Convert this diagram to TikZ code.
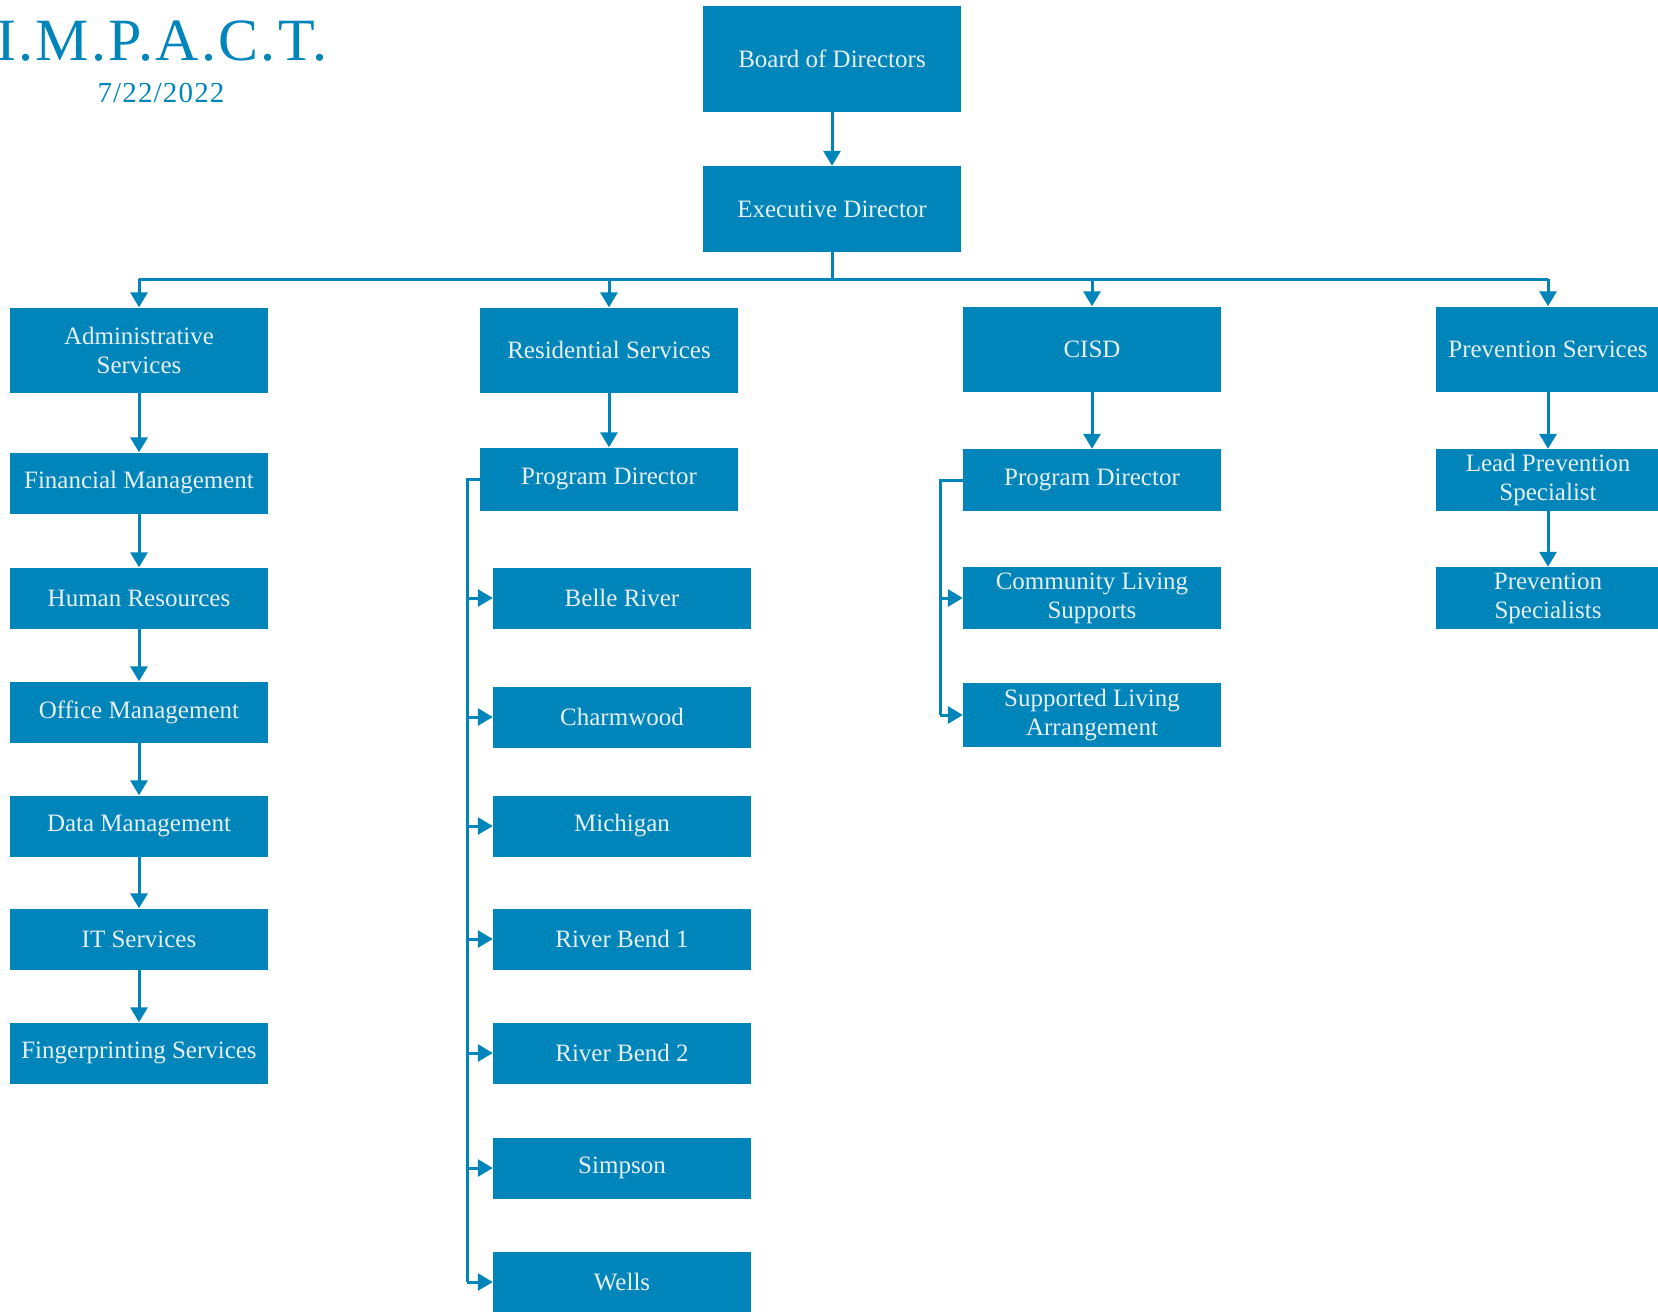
\documentclass[tikz,border=0pt]{standalone}
\usepackage{fontspec}
\setmainfont{Liberation Serif}
\usetikzlibrary{arrows.meta,positioning}
\definecolor{orgblue}{RGB}{0,133,187}
\definecolor{boxtext}{RGB}{230,240,245}

\begin{document}
\begin{tikzpicture}[
    x=1pt, y=-1pt,
    box/.style={fill=orgblue, text=boxtext, minimum width=258pt, minimum height=61pt,
      inner sep=0pt, align=center, font=\fontsize{25}{29}\selectfont},
    head/.style={box, minimum height=85pt},
    link/.style={draw=orgblue, line width=3pt},
    arr/.style={link, -{Triangle[length=15pt,width=17pt]}}
  ]
    \useasboundingbox (0,0) rectangle (1658,1312);

    \node[anchor=base, text=orgblue, font=\fontsize{60}{60}\selectfont\addfontfeature{LetterSpace=4}] (impact) at (162,60) {I.M.P.A.C.T.};
    \node[anchor=base, text=orgblue, font=\fontsize{29}{29}\selectfont\addfontfeature{LetterSpace=4}] (date) at (161,102) {7/22/2022};

    \node[box, minimum height=106pt] (board) at (832,59) {Board of Directors};
    \node[box, minimum height=86pt] (exec) at (832,209) {Executive Director};
    \draw[arr] (board) -- (exec);

    % departments
    \node[head] (admin) at (139,350) {Administrative\\Services};
    \node[head] (res) at (609,350) {Residential Services};
    \node[head] (cisd) at (1092,349) {CISD};
    \node[head, minimum width=224pt] (prev) at (1548,349) {Prevention Services};

    \coordinate (bus) at (832,279);
    \draw[link] (exec) -- (bus);
    \draw[link] (bus -| admin) -- (bus -| prev);
    \foreach \n in {admin,res,cisd,prev} {
      \draw[arr] (bus -| \n) -- (\n.north);
    }

    % administrative chain
    \node[box] (fin) at (139,483) {Financial Management};
    \node[box] (hr) at (139,598) {Human Resources};
    \node[box] (office) at (139,712) {Office Management};
    \node[box] (data) at (139,826) {Data Management};
    \node[box] (it) at (139,939) {IT Services};
    \node[box] (finger) at (139,1053) {Fingerprinting Services};
    \foreach \a/\b in {admin/fin,fin/hr,hr/office,office/data,data/it,it/finger} {
      \draw[arr] (\a) -- (\b);
    }

    % residential
    \node[box, minimum height=63pt] (rpd) at (609,479) {Program Director};
    \draw[arr] (res) -- (rpd);
    \foreach \n/\y/\t in {belle/598/Belle River, charm/717/Charmwood, mich/826/Michigan,
        rb1/939/River Bend 1, rb2/1053/River Bend 2, simp/1168/Simpson, wells/1282/Wells} {
      \node[box] (\n) at (622,\y) {\t};
    }
    \coordinate (rtrunk) at (467,0);
    \draw[link] (rpd.west) -| (rtrunk |- wells.west);
    \foreach \n in {belle,charm,mich,rb1,rb2,simp,wells} {
      \draw[arr] (rtrunk |- \n.west) -- (\n.west);
    }

    % CISD
    \node[box, minimum height=62pt] (cpd) at (1092,480) {Program Director};
    \node[box, minimum height=62pt] (cls) at (1092,598) {Community Living\\Supports};
    \node[box, minimum height=64pt] (sla) at (1092,715) {Supported Living\\Arrangement};
    \draw[arr] (cisd) -- (cpd);
    \coordinate (ctrunk) at (940,0);
    \draw[link] (cpd.west) -| (ctrunk |- sla.west);
    \foreach \n in {cls,sla} {
      \draw[arr] (ctrunk |- \n.west) -- (\n.west);
    }

    % prevention
    \node[box, minimum width=224pt, minimum height=62pt] (lead) at (1548,480) {Lead Prevention\\Specialist};
    \node[box, minimum width=224pt, minimum height=62pt] (prevspec) at (1548,598) {Prevention\\Specialists};
    \draw[arr] (prev) -- (lead);
    \draw[arr] (lead) -- (prevspec);
  \end{tikzpicture}
\end{document}
